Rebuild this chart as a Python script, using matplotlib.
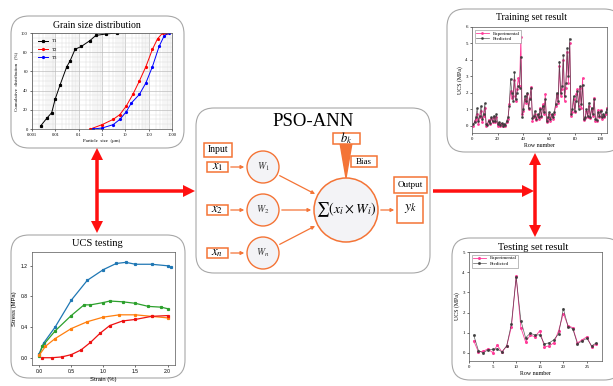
import numpy as np
import matplotlib
matplotlib.use("Agg")
import matplotlib.pyplot as plt
from matplotlib.patches import FancyBboxPatch, Circle, Rectangle, Polygon

plt.rcParams["mathtext.fontset"] = "stix"
SERIF = "Liberation Serif"
SANS = "Liberation Sans"

W, H = 613, 386

# ---- grain size distribution data ----
t1_size = [0.0024, 0.0044, 0.007, 0.0098, 0.016, 0.031, 0.043, 0.07, 0.13, 0.3, 0.55, 1.5, 4.4]
t1_pass = [3.5, 11.5, 17, 31, 46, 65, 71, 83, 86, 92, 97.5, 99, 100]
t2_size = [0.32, 1, 3, 5.8, 11, 21, 40, 76, 145, 240, 400, 550]
t2_pass = [0, 4.5, 10, 15, 24, 36, 50, 65, 83, 94, 100, 100]
t3_size = [0.4, 1, 3, 5.8, 11, 18, 40, 76, 145, 280, 460, 720]
t3_pass = [0, 1, 4.5, 10, 18, 27, 36, 48, 65, 86, 97, 100]

# ---- UCS testing data ----
blue_strain = [0.0, 0.07, 0.25, 0.5, 0.75, 1.0, 1.2, 1.35, 1.5, 1.75, 2.0, 2.05]
blue_stress = [0.05, 0.19, 0.4, 0.75, 1.01, 1.15, 1.23, 1.245, 1.22, 1.22, 1.2, 1.18]
green_strain = [0.0, 0.05, 0.25, 0.5, 0.7, 0.8, 1.0, 1.1, 1.3, 1.5, 1.7, 1.9, 2.0]
green_stress = [0.02, 0.15, 0.35, 0.55, 0.69, 0.69, 0.72, 0.74, 0.73, 0.71, 0.67, 0.66, 0.64]
orange_strain = [0.0, 0.1, 0.25, 0.5, 0.75, 1.0, 1.25, 1.5, 1.75, 2.0]
orange_stress = [0.03, 0.15, 0.25, 0.38, 0.47, 0.53, 0.56, 0.56, 0.54, 0.52]
red_strain = [0.05, 0.2, 0.35, 0.5, 0.65, 0.8, 0.95, 1.1, 1.3, 1.5, 1.75, 2.0]
red_stress = [0.0, 0.0, 0.01, 0.04, 0.1, 0.2, 0.32, 0.42, 0.48, 0.5, 0.54, 0.55]

# ---- training set ----
train_pred = [0.1, 0.2, 0.5, 1.05, 0.3, 0.6, 1.2, 0.4, 0.7, 1.35,
              0.1, 0.05, 0.3, 0.15, 0.5, 0.25, 0.6, 0.3, 0.7, 0.1,
              0.2, 0.05, 0.15, 0.0, 0.1, 0.05, 0.3, 0.5, 1.2, 2.85,
              2.0, 1.5, 3.25, 1.6, 2.0, 2.4, 2.3, 4.2, 0.5, 1.0,
              1.8, 1.5, 2.0, 1.1, 1.6, 2.3, 0.45, 0.6, 0.9, 0.4,
              0.7, 0.5, 1.0, 0.6, 1.2, 0.8, 1.6, 0.3, 0.5, 0.8,
              0.4, 0.7, 0.5, 0.8, 1.3, 2.0, 1.5, 3.9, 2.0, 2.4,
              4.3, 1.8, 2.6, 4.7, 3.0, 5.3, 0.7, 1.0, 1.8, 0.9,
              1.5, 2.1, 1.0, 2.4, 1.3, 2.5, 0.4, 0.5, 1.0, 0.6,
              1.4, 0.5, 1.1, 0.7, 1.6, 0.4, 0.35, 0.8, 0.6, 0.9,
              0.5, 0.7, 0.6, 0.8, 1.0]
train_exp = [0.0, 0.25, 0.4, 0.7, 0.1, 0.5, 0.9, 0.2, 0.6, 1.1,
             0.0, 0.1, 0.35, 0.1, 0.45, 0.2, 0.55, 0.2, 0.5, 0.0,
             0.15, 0.0, 0.1, 0.0, 0.05, 0.0, 0.2, 0.4, 1.3, 2.1,
             1.7, 1.8, 2.8, 1.5, 2.2, 2.9, 2.4, 5.4, 0.7, 0.9,
             1.6, 1.4, 1.9, 1.0, 1.7, 2.35, 0.3, 0.5, 0.7, 0.35,
             0.6, 0.4, 1.1, 0.5, 1.3, 0.7, 1.9, 0.2, 0.4, 0.7,
             0.3, 0.6, 0.4, 0.7, 1.2, 1.9, 1.4, 3.6, 1.8, 2.2,
             4.0, 1.5, 2.3, 4.5, 2.6, 5.0, 0.6, 0.8, 1.6, 0.8,
             1.9, 2.2, 1.2, 2.3, 1.1, 2.9, 0.35, 0.45, 0.9, 0.5,
             1.2, 0.45, 1.0, 0.6, 1.7, 0.3, 0.3, 0.95, 0.5, 0.95,
             0.4, 0.6, 0.5, 0.7, 1.1]

# ---- testing set ----
test_pred = [0.88, 0.12, 0.0, 0.15, 0.18, 0.2, 0.05, 0.35, 1.45, 3.75,
             1.6, 0.75, 0.98, 0.88, 0.9, 0.45, 0.5, 0.65, 0.95, 2.2,
             1.3, 1.2, 0.45, 0.6, 0.72, 0.35, 0.5]
test_exp = [0.6, 0.05, 0.08, 0.2, 0.02, 0.38, 0.05, 0.35, 1.3, 3.8,
            1.25, 0.55, 0.88, 0.8, 1.1, 0.3, 0.35, 0.5, 1.1, 1.95,
            1.35, 1.25, 0.5, 0.65, 0.8, 0.3, 0.45]

ORANGE = "#F47436"
RED = "#FF1010"
PINK = "#FF3D9A"
DARK = "#3a3a3a"


def px_axes(fig, x0, y0, x1, y1):
    return fig.add_axes([x0 / W, 1 - y1 / H, (x1 - x0) / W, (y1 - y0) / H])


def small_ticks(ax, family, size=3.6):
    ax.tick_params(labelsize=size, length=1.5, width=0.4, pad=1.5)
    for lab in ax.get_xticklabels() + ax.get_yticklabels():
        lab.set_family(family)
    for sp in ax.spines.values():
        sp.set_linewidth(0.5)
        sp.set_color("#555555")


fig = plt.figure(figsize=(W / 100, H / 100), dpi=100)
bg = fig.add_axes([0, 0, 1, 1])
bg.set_xlim(0, W)
bg.set_ylim(H, 0)
bg.axis("off")

# rounded panels
panels = [(11, 16, 184, 148), (11, 235, 185, 378), (196, 108, 430, 273),
          (447, 9, 622, 152), (452, 238, 622, 380)]
for x0, y0, x1, y1 in panels:
    bg.add_patch(FancyBboxPatch((x0 + 18, y0 + 18), x1 - x0 - 36, y1 - y0 - 36,
                                boxstyle="round,pad=18", fc="white", ec="#a8a8a8", lw=0.8))

# panel titles
bg.text(97, 25, "Grain size distribution", family=SERIF, fontsize=7, ha="center", va="center")
bg.text(97, 244, "UCS testing", family=SERIF, fontsize=7.5, ha="center", va="center")
bg.text(532, 18, "Training set result", family=SERIF, fontsize=7, ha="center", va="center")
bg.text(533, 247, "Testing set result", family=SERIF, fontsize=7.5, ha="center", va="center")
bg.text(313, 122, "PSO-ANN", family=SERIF, fontsize=13.5, ha="center", va="center")

# red connection arrows
arr = dict(width=3.5, head_width=12, head_length=12, length_includes_head=True,
           color=RED, lw=0)
bg.arrow(97, 191, 0, -43, **arr)
bg.arrow(97, 191, 0, 42, **arr)
bg.arrow(97, 191, 98, 0, **arr)
bg.arrow(433, 191, 101, 0, **arr)
bg.arrow(535, 191, 0, -38, **arr)
bg.arrow(535, 191, 0, 46, **arr)

# ---- neuron diagram ----
def obox(x0, y0, x1, y1, label, size=7):
    bg.add_patch(Rectangle((x0, y0), x1 - x0, y1 - y0, fc="white", ec=ORANGE, lw=1.1))
    bg.text((x0 + x1) / 2, (y0 + y1) / 2, label, family=SERIF, fontsize=size,
            ha="center", va="center")

obox(204, 143, 232, 157, "Input")
obox(351, 156, 377, 167, "Bias", 6.5)
obox(394, 177, 427, 193, "Output", 6.5)
obox(397, 196, 423, 223, r"$y_k$", 10)

# bias wedge
bg.add_patch(Polygon([(340, 143), (352, 143), (346, 178)], closed=True, fc=ORANGE, ec=ORANGE))
obox(333, 133, 360, 144, r"$b_k$", 9)

inputs = [r"$x_1$", r"$x_2$", r"$x_n$"]
weights = [r"$W_1$", r"$W_2$", r"$W_n$"]
rows_y = [167, 210, 253]
cx, cy, cr = 346, 210, 32
for lab_x, lab_w, y in zip(inputs, weights, rows_y):
    obox(207, y - 5, 228, y + 5, lab_x, 9)
    bg.add_patch(Circle((263, y), 16, fc="#f3f3f6", ec=ORANGE, lw=1.0))
    bg.text(263, y, lab_w, fontsize=7, ha="center", va="center", color="#333333")
    bg.annotate("", xy=(247, y), xytext=(228, y),
                arrowprops=dict(arrowstyle="-|>", color=ORANGE, lw=0.9, mutation_scale=5))
    ang = np.arctan2(y - cy, 263 - cx)
    bg.annotate("", xy=(cx + cr * np.cos(ang), cy + cr * np.sin(ang)),
                xytext=(263 + 16 * np.cos(ang + np.pi), y + 16 * np.sin(ang + np.pi)),
                arrowprops=dict(arrowstyle="-|>", color=ORANGE, lw=0.9, mutation_scale=5))

bg.add_patch(Circle((cx, cy), cr, fc="#f3f3f6", ec=ORANGE, lw=1.1))
bg.text(cx, cy, r"$\sum(x_i \times W_i)$", fontsize=10, ha="center", va="center")
bg.annotate("", xy=(397, cy), xytext=(cx + cr, cy),
            arrowprops=dict(arrowstyle="-|>", color=ORANGE, lw=0.9, mutation_scale=5))

# ---- grain size chart ----
ax = px_axes(fig, 32, 33, 172, 129)
ax.plot(t1_size, t1_pass, "-s", color="black", ms=1.3, lw=0.7, label="T1")
ax.plot(t2_size, t2_pass, "-o", color="red", ms=1.3, lw=0.7, label="T2")
ax.plot(t3_size, t3_pass, "-o", color="blue", ms=1.3, lw=0.7, label="T3")
ax.set_xscale("log")
ax.set_xlim(0.001, 1000)
ax.set_ylim(0, 100)
ax.set_yticks([0, 20, 40, 60, 80, 100])
ax.set_yticks([5 * i for i in range(21)], minor=True)
ax.set_xticks([0.001, 0.01, 0.1, 1, 10, 100, 1000])
ax.set_xticklabels(["0.001", "0.01", "0.1", "1", "10", "100", "1000"])
ax.grid(True, which="major", color="#b8b8b8", lw=0.45)
ax.grid(True, which="minor", color="#dddddd", lw=0.35)
ax.set_axisbelow(True)
small_ticks(ax, SERIF, 3.3)
ax.tick_params(which="minor", length=0)
ax.set_xlabel("Particle  size  (\u03bcm)", family=SERIF, fontsize=3.5, labelpad=1)
ax.set_ylabel("Cumulative  distribution   (%)", family=SERIF, fontsize=3.5, labelpad=2)
leg = ax.legend(loc="upper left", frameon=False, prop={"family": SERIF, "size": 3.5},
                handlelength=2, borderaxespad=0.8, labelspacing=0.8)

# ---- UCS testing chart ----
ax = px_axes(fig, 32, 252, 175, 365)
ax.plot(blue_strain, blue_stress, "-s", color="#1f77b4", ms=1.3, lw=0.9)
ax.plot(green_strain, green_stress, "-s", color="#2ca02c", ms=1.3, lw=0.9)
ax.plot(orange_strain, orange_stress, "-s", color="#ff7f0e", ms=1.3, lw=0.9)
ax.plot(red_strain, red_stress, "-s", color="#ee1111", ms=1.3, lw=0.9)
ax.set_xlim(-0.11, 2.115)
ax.set_ylim(-0.095, 1.38)
ax.set_xticks([0.0, 0.5, 1.0, 1.5, 2.0])
ax.set_xticklabels(["0.0", "0.5", "1.0", "1.5", "2.0"])
ax.set_yticks([0.0, 0.4, 0.8, 1.2])
ax.set_yticklabels(["0.0", "0.4", "0.8", "1.2"])
small_ticks(ax, SANS, 3.6)
ax.set_xlabel("Strain (%)", family=SANS, fontsize=4.2, labelpad=2)
ax.set_ylabel("Stress (MPa)", family=SANS, fontsize=4.2, labelpad=3)

# ---- training chart ----
rows = np.arange(1, len(train_pred) + 1)
ax = px_axes(fig, 472, 27, 607, 133)
ax.plot(rows, train_exp, "-o", color=PINK, ms=1.0, lw=0.6, label="Experimental")
ax.plot(rows, train_pred, "-o", color=DARK, ms=1.0, lw=0.5, alpha=0.8, label="Predicted")
ax.set_xlim(0, 105)
ax.set_ylim(-0.45, 6)
ax.set_xticks([0, 20, 40, 60, 80, 100])
ax.set_yticks([0, 1, 2, 3, 4, 5, 6])
small_ticks(ax, SERIF, 3.5)
ax.set_xlabel("Row number", family=SERIF, fontsize=4.2, labelpad=1)
ax.set_ylabel("UCS (MPa)", family=SERIF, fontsize=4.2, labelpad=2)
ax.legend(loc="upper left", prop={"family": SERIF, "size": 3.6}, handlelength=2.5,
          borderpad=0.3, labelspacing=0.2, fancybox=False, edgecolor="#888888",
          framealpha=1).get_frame().set_linewidth(0.4)

# ---- testing chart ----
rows_t = np.arange(1, len(test_pred) + 1)
ax = px_axes(fig, 469, 252, 602, 361)
ax.plot(rows_t, test_exp, "-o", color=PINK, ms=1.2, lw=0.6, label="Experimental")
ax.plot(rows_t, test_pred, "-o", color=DARK, ms=1.2, lw=0.5, alpha=0.8, label="Predicted")
ax.set_xlim(0, 28.2)
ax.set_ylim(-0.4, 5)
ax.set_xticks([0, 5, 10, 15, 20, 25])
ax.set_yticks([0, 1, 2, 3, 4, 5])
small_ticks(ax, SERIF, 3.5)
ax.set_xlabel("Row number", family=SERIF, fontsize=4.2, labelpad=1.5)
ax.set_ylabel("UCS (MPa)", family=SERIF, fontsize=4.2, labelpad=2)
ax.legend(loc="upper left", prop={"family": SERIF, "size": 3.6}, handlelength=2.5,
          borderpad=0.3, labelspacing=0.2, fancybox=False, edgecolor="#888888",
          framealpha=1).get_frame().set_linewidth(0.4)

fig.savefig("out.png", dpi=100)
